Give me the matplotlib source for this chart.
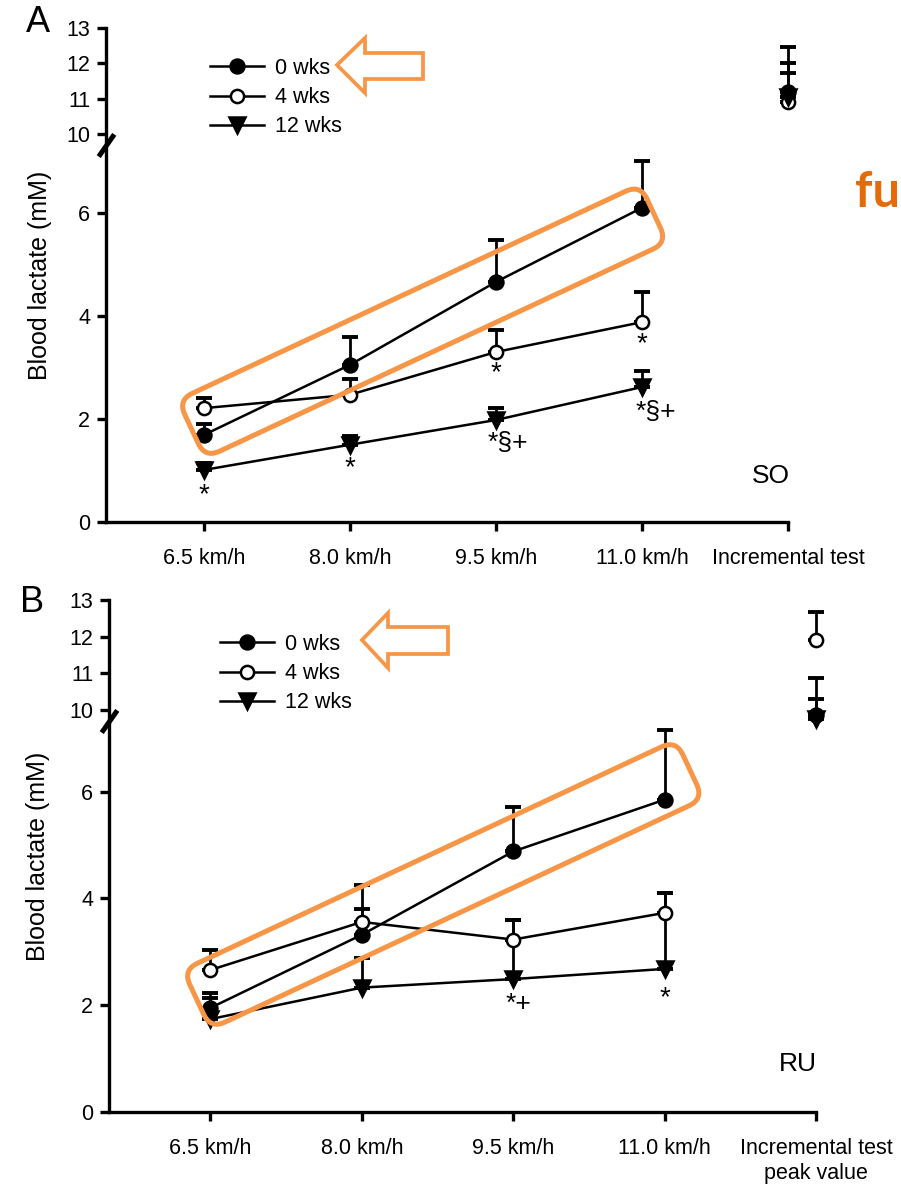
import numpy as np
import matplotlib
matplotlib.use("Agg")
import matplotlib.pyplot as plt
import matplotlib.transforms as mtransforms
from matplotlib.patches import FancyBboxPatch, Polygon
from matplotlib.lines import Line2D

plt.rcParams["font.family"] = ["Liberation Sans", "DejaVu Sans"]

# figure size in pixels (saved at 100 dpi)
W, H = 901, 1189

speeds = ["6.5 km/h", "8.0 km/h", "9.5 km/h", "11.0 km/h"]
ticks_so = speeds + ["Incremental test"]
ticks_ru = speeds + ["Incremental test\npeak value"]
groups = ["0 wks", "4 wks", "12 wks"]
y_ticks = [0, 2, 4, 6, 10, 11, 12, 13]

# blood lactate (mM), mean and SD, panel A (SO)
so_0wk = [1.69, 3.05, 4.66, 6.10]
so_0wk_sd = [0.21, 0.55, 0.82, 0.90]
so_4wk = [2.21, 2.47, 3.30, 3.88]
so_4wk_sd = [0.19, 0.31, 0.43, 0.59]
so_12wk = [1.01, 1.50, 1.98, 2.62]
so_12wk_sd = [0.14, 0.17, 0.23, 0.31]
so_peak = [11.2, 10.9, 11.05]
so_peak_sd = [1.26, 1.10, 0.68]

# panel B (RU)
ru_0wk = [1.95, 3.32, 4.88, 5.85]
ru_0wk_sd = [0.28, 0.93, 0.84, 1.30]
ru_4wk = [2.66, 3.56, 3.23, 3.73]
ru_4wk_sd = [0.38, 0.24, 0.37, 0.37]
ru_12wk = [1.74, 2.33, 2.49, 2.68]
ru_12wk_sd = [0.40, 0.56, 1.11, 1.42]
ru_peak = [9.85, 11.9, 9.75]
ru_peak_sd = [1.01, 0.76, 0.56]

# significance marks: (x, y, text)
so_marks = [(0, 0.52, "*"), (1, 1.05, "*"), (2, 2.88, "*"), (3, 3.45, "*")]
so_marks_left = [(1.94, 1.53, "*§+"), (2.955, 2.13, "*§+")]
ru_marks = [(3, 2.13, "*")]
ru_marks_left = [(1.95, 2.02, "*+")]

ORANGE = "#F79646"

# broken y axis: 0-7 linear, squeeze 7-10, then 10-13 compressed
BRK_DATA = np.array([0.0, 7.15, 9.6, 13.0])
BRK_DISP = np.array([0.0, 7.15, 7.255, 9.59])


def piecewise(v, xs, ys):
	v = np.atleast_1d(np.asarray(v, dtype=float))
	out = np.interp(v, xs, ys)
	lo = v < xs[0]
	hi = v > xs[-1]
	out[lo] = ys[0] + (v[lo] - xs[0]) * (ys[1] - ys[0]) / (xs[1] - xs[0])
	out[hi] = ys[-1] + (v[hi] - xs[-1]) * (ys[-1] - ys[-2]) / (xs[-1] - xs[-2])
	return out


def fwd(v):
	return piecewise(v, BRK_DATA, BRK_DISP)


def inv(v):
	return piecewise(v, BRK_DISP, BRK_DATA)


STYLE = {
	"0 wks": dict(marker="o", mfc="black", ms=10),
	"4 wks": dict(marker="o", mfc="white", ms=9.5),
	"12 wks": dict(marker="v", mfc="black", ms=11),
}


def draw_panel(ax, means, sds, peaks, peak_sds, xlabels, tag):
	x = np.arange(len(means[0]))
	for name, m, s in zip(groups, means, sds):
		ax.errorbar(x, m, yerr=[np.zeros(len(s)), s], fmt="none",
				ecolor="black", elinewidth=2, capsize=6, capthick=2.8,
				zorder=2)
		ax.plot(x, m, color="black", lw=1.8, mec="black", mew=1.8,
			zorder=3, **STYLE[name])
	# peak values from the incremental test, not joined to the lines
	for i, name in enumerate(groups):
		eb = ax.errorbar([4], [peaks[i]], yerr=[[0], [peak_sds[i]]],
				fmt="none", ecolor="black", elinewidth=2,
				capsize=6, capthick=2.8, zorder=2)
		for art in eb.lines[1] + eb.lines[2]:
			art.set_clip_on(False)
		ln, = ax.plot([4], [peaks[i]], color="black", mec="black",
				mew=1.8, zorder=3, ls="none", **STYLE[name])
		ln.set_clip_on(False)

	ax.set_yscale("function", functions=(fwd, inv))
	ax.set_ylim(0, 13)
	ax.set_xlim(-0.67, 4.0)
	ax.set_yticks(y_ticks)
	ax.set_yticklabels([str(t) for t in y_ticks])
	ax.set_xticks(range(5))
	ax.set_xticklabels(xlabels, linespacing=1.3, va="top")
	ax.yaxis.set_minor_locator(matplotlib.ticker.NullLocator())
	for side in ["top", "right"]:
		ax.spines[side].set_visible(False)
	for side in ["left", "bottom"]:
		ax.spines[side].set_linewidth(2.4)
	ax.tick_params(axis="both", direction="out", length=6.5, width=2.4,
			labelsize=15.5)
	ax.tick_params(axis="x", pad=12)
	ax.tick_params(axis="y", pad=5)
	ax.set_ylabel("Blood lactate (mM)", fontsize=18)

	# break mark on the y axis
	brk = mtransforms.blended_transform_factory(ax.transAxes, ax.transData)
	ax.plot([0], [9.7], transform=brk, marker=[(-0.7, -1), (0.7, 1)],
		ms=16, mew=3.6, mec="black", mfc="none", clip_on=False, zorder=5)

	ax.text(3.88, 0.9, tag, fontsize=19, ha="center", va="center")


fig = plt.figure(figsize=(W / 100, H / 100), dpi=100)


def fx(p):
	return p / W


def fy(p):
	return 1 - p / H


axA = fig.add_axes([fx(106), fy(522), (788 - 106) / W, (522 - 28) / H])
axB = fig.add_axes([fx(109), fy(1112), (816 - 109) / W, (1112 - 600) / H])

draw_panel(axA, [so_0wk, so_4wk, so_12wk], [so_0wk_sd, so_4wk_sd, so_12wk_sd],
	so_peak, so_peak_sd, ticks_so, "SO")
draw_panel(axB, [ru_0wk, ru_4wk, ru_12wk], [ru_0wk_sd, ru_4wk_sd, ru_12wk_sd],
	ru_peak, ru_peak_sd, ticks_ru, "RU")
axA.yaxis.set_label_coords(-0.079, 0.5)
axB.yaxis.set_label_coords(-0.083, 0.5)

for ax, marks, marks_left in [(axA, so_marks, so_marks_left),
				(axB, ru_marks, ru_marks_left)]:
	for mx, my, t in marks:
		ax.text(mx, my, t, fontsize=20, ha="center", va="center")
	for mx, my, t in marks_left:
		ax.text(mx, my, t, fontsize=19, ha="left", va="center")

# legends
handles = [Line2D([], [], color="black", lw=1.8, mec="black", mew=1.8,
		**STYLE[g]) for g in groups]
for ax, lx, ly in [(axA, 210, 58), (axB, 220, 634)]:
	ax.legend(handles, groups, loc="upper left", frameon=False,
		fontsize=15.5, handlelength=2.5, handletextpad=0.5,
		labelspacing=0.38, borderpad=0, borderaxespad=0,
		bbox_to_anchor=(fx(lx), fy(ly)), bbox_transform=fig.transFigure)

fig.text(fx(38), fy(22), "A", fontsize=26, ha="center", va="center")
fig.text(fx(32), fy(603), "B", fontsize=26, ha="center", va="center")

# orange highlights, drawn in image pixel coordinates (y down)
pix = mtransforms.Affine2D().scale(1, -1).translate(0, H).scale(1 / W, 1 / H) \
	+ fig.transFigure

for tlx, tly, bw, bh in [(178, 400, 510, 64), (183, 970, 544, 65)]:
	box = FancyBboxPatch((0, 0), bw, bh,
		boxstyle="round,pad=0,rounding_size=16", fill=False,
		edgecolor=ORANGE, lw=3.6,
		transform=mtransforms.Affine2D().rotate_deg(-25).translate(tlx, tly) + pix)
	fig.add_artist(box)

for tip, base, right, hy0, hy1, sy0, sy1, cy in [
		(337, 365, 423, 38, 93, 53, 79, 65),
		(362, 388, 448, 613, 668, 627, 654, 640)]:
	arrow = Polygon([(tip, cy), (base, hy0), (base, sy0), (right, sy0),
			(right, sy1), (base, sy1), (base, hy1)], closed=True,
			fill=False, edgecolor=ORANGE, lw=2.7, joinstyle="miter",
			transform=pix)
	fig.add_artist(arrow)

fig.text(fx(855), fy(207), "fu", color="#E36C09", fontsize=35,
	fontweight="bold", family=["Lato", "DejaVu Sans"], ha="left",
	va="baseline")

fig.savefig("out.png", dpi=100)
